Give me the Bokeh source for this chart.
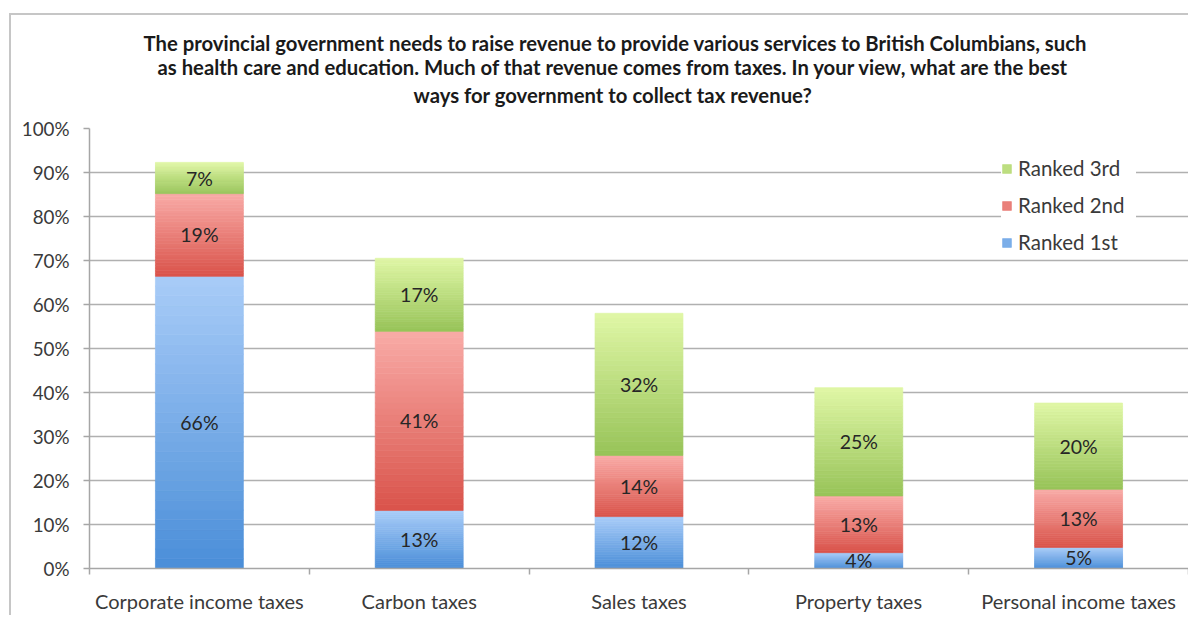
from bokeh.plotting import figure
from bokeh.models import ColumnDataSource, FixedTicker, PrintfTickFormatter, Legend, LegendItem, Title
from bokeh.core.properties import value
from bokeh.embed import file_html
from bokeh.resources import INLINE

# ---- data ----
categories = ["Corporate income taxes", "Carbon taxes", "Sales taxes", "Property taxes", "Personal income taxes"]
series_names = ["Ranked 1st", "Ranked 2nd", "Ranked 3rd"]
ranked_1st = [66.4, 13.2, 11.8, 3.6, 4.8]
ranked_2nd = [18.8, 40.7, 13.9, 12.9, 13.2]
ranked_3rd = [7.1, 16.6, 32.3, 24.6, 19.6]
y_ticks = [0, 10, 20, 30, 40, 50, 60, 70, 80, 90, 100]
title_lines = [
    "The provincial government needs to raise revenue to provide various services to British Columbians, such",
    "as health care and education. Much of that revenue comes from taxes. In your view, what are the best",
    "ways for government to collect tax revenue?",
]

FONT = "Lato"
GRID = "#b0b0b0"
AXIS = "#a6a6a6"

p = figure(width=1188, height=615, x_range=(0, len(categories)), y_range=(0, 100),
           output_backend="svg", toolbar_location=None,
           min_border_left=89, min_border_right=0, min_border_top=128, min_border_bottom=47)
p.border_fill_color = None
p.background_fill_color = "white"
# outer chart frame (top and left edges only)
p.styles = {"background-color": "white",
            "box-shadow": "inset 9px 13px 0 0 #ffffff, inset 11px 15px 0 0 #c6c6c6"}

centers = [i + 0.5 for i in range(len(categories))]
bounds = [i for i in range(len(categories) + 1)]


def hex2rgb(h):
    h = h.lstrip("#")
    return tuple(int(h[i:i + 2], 16) for i in (0, 2, 4))


def lerp(c1, c2, t):
    a, b = hex2rgb(c1), hex2rgb(c2)
    return "#%02x%02x%02x" % tuple(int(round(a[i] + (b[i] - a[i]) * t)) for i in range(3))


gradients = {
    "Ranked 1st": ("#4a8ed8", "#a9ccf8"),
    "Ranked 2nd": ("#d9534a", "#f9aba7"),
    "Ranked 3rd": ("#97c358", "#e0f7a6"),
}

N = 30
series_values = [ranked_1st, ranked_2nd, ranked_3rd]
base = [0.0] * len(categories)
legend_renderers = {}
label_x, label_y, label_t = [], [], []
for name, vals in zip(series_names, series_values):
    c_bot, c_top = gradients[name]
    for k in range(N):
        bot = [b + v * k / N for b, v in zip(base, vals)]
        top = [b + v * (k + 1) / N for b, v in zip(base, vals)]
        col = lerp(c_bot, c_top, (k + 0.5) / N)
        src = ColumnDataSource(dict(x=centers, bottom=bot, top=top))
        r = p.vbar(x="x", bottom="bottom", top="top", width=0.4, source=src,
                   fill_color=col, line_color=col, line_width=0.7)
        if k == N // 2:
            legend_renderers[name] = r
    for i, v in enumerate(vals):
        label_x.append(centers[i])
        label_y.append(base[i] + v / 2)
        label_t.append("%d%%" % round(v))
    base = [b + v for b, v in zip(base, vals)]

p.text(x="x", y="y", text="t", source=ColumnDataSource(dict(x=label_x, y=label_y, t=label_t)),
       text_align="center", text_baseline="middle", text_font=value(FONT),
       text_font_size="19.5px", text_color="#262626")

# ---- title: a spacer next to the frame, then one Title per line (innermost first) ----
p.title = None
p.add_layout(Title(text=" ", standoff=-5, text_font=FONT, text_font_size="20.3px",
                   text_font_style="bold"), "above")
title_offsets = [54, 68, 324]      # left offset of each line from the frame's left edge
title_standoffs = [-6, 2, 2]
for line, off, so in reversed(list(zip(title_lines, title_offsets, title_standoffs))):
    p.add_layout(Title(text=line, align="left", offset=off, standoff=so, text_font=FONT,
                       text_font_size="20.3px", text_font_style="bold", text_color="#1a1a1a"),
                 "above")

# ---- axes ----
yt = FixedTicker(ticks=y_ticks)
p.yaxis.ticker = yt
p.ygrid.ticker = yt
p.yaxis.formatter = PrintfTickFormatter(format="%d%%")
p.yaxis.axis_line_color = AXIS
p.yaxis.axis_line_width = 1.5
p.yaxis.major_tick_line_color = AXIS
p.yaxis.major_tick_line_width = 1.5
p.yaxis.major_tick_out = 6
p.yaxis.major_tick_in = 0
p.yaxis.minor_tick_line_color = None
p.yaxis.major_label_text_font = FONT
p.yaxis.major_label_text_font_size = "18.8px"
p.yaxis.major_label_text_color = "#3a3a3a"
p.yaxis.major_label_standoff = 14

p.xaxis.ticker = FixedTicker(ticks=centers, minor_ticks=bounds)
p.xaxis.major_label_overrides = {c: n for c, n in zip(centers, categories)}
p.xaxis.axis_line_color = AXIS
p.xaxis.axis_line_width = 1.5
p.xaxis.major_tick_line_color = None
p.xaxis.minor_tick_line_color = AXIS
p.xaxis.minor_tick_line_width = 1.5
p.xaxis.minor_tick_out = 6
p.xaxis.minor_tick_in = 0
p.xaxis.major_label_text_font = FONT
p.xaxis.major_label_text_font_size = "20px"
p.xaxis.major_label_text_color = "#3a3a3a"
p.xaxis.major_label_standoff = 14

p.xgrid.visible = False
p.ygrid.grid_line_color = GRID
p.ygrid.grid_line_width = 1.5
p.outline_line_color = None

# ---- legend ----
items = [LegendItem(label=n, renderers=[legend_renderers[n]]) for n in reversed(series_names)]
legend = Legend(items=items, location=(912, 314), background_fill_color="white",
                background_fill_alpha=1.0, border_line_color=None,
                glyph_width=11, glyph_height=11, label_height=23, label_width=118,
                spacing=13, padding=10,
                label_standoff=6, label_text_font=FONT, label_text_font_size="20.5px",
                label_text_color="#3a3a3a")
p.add_layout(legend)

open("out.html", "w").write(file_html(p, INLINE))
